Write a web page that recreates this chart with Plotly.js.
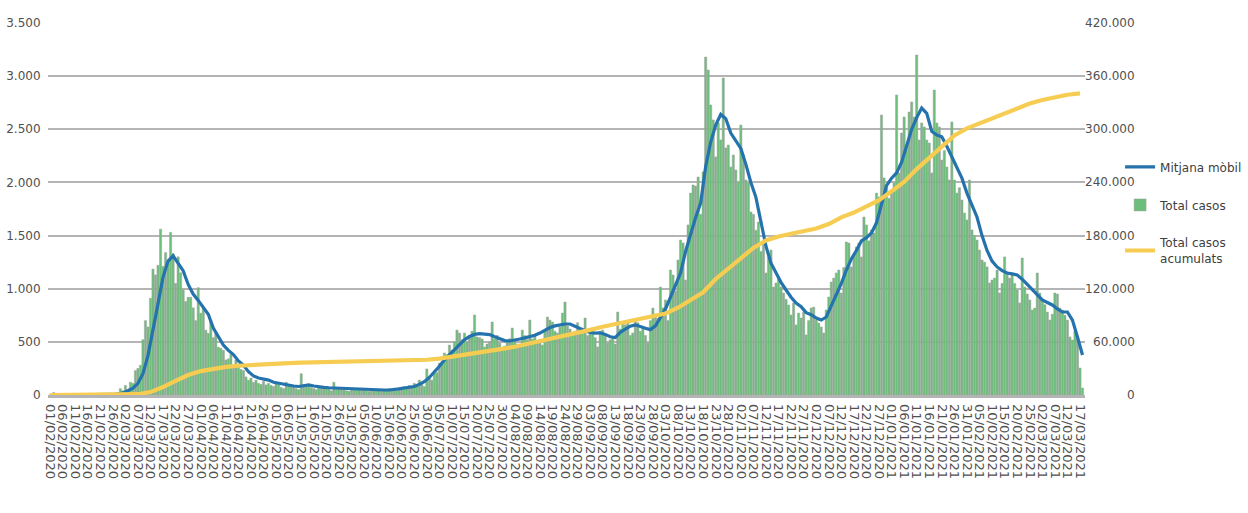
<!DOCTYPE html>
<html>
<head>
<meta charset="utf-8">
<script src="https://cdn.plot.ly/plotly-3.0.1.min.js"></script>
<style>
  html, body { margin: 0; padding: 0; background: #ffffff; }
  #chart { width: 1248px; height: 513px; }
</style>
</head>
<body>
<div id="chart"></div>
<script>
// ---- data ----
const startDate = '2020-02-01';

// Total casos: one value per day from 01/02/2020
const dailyCases = [
  // Feb 2020
  0,0,0,0,0,0,0,0,0,0, 0,0,0,0,0,0,0,0,0,0, 0,0,0,1,1,2,3,10,60,
  // Mar 2020
  40,90,50,120,110,230,250,280,520,700, 640,910,1185,1130,1220,1560,1210,1340,1270,1530,
  1330,1050,1300,1150,990,880,920,920,820,700, 1010,
  // Apr 2020
  770,820,610,580,700,540,580,450,440,420, 330,340,380,260,330,270,240,230,170,140,
  160,120,140,110,100,130,95,110,90,80,
  // May 2020
  110,100,70,60,120,90,80,75,60,50, 200,90,80,85,70,60,50,75,70,80,
  60,55,40,120,60,55,60,50,40,35, 60,
  // Jun 2020
  55,60,50,55,45,40,35,50,45,50, 40,35,50,45,60,55,50,40,70,75,
  80,60,90,70,110,90,140,120,80,245,
  // Jul 2020
  170,140,200,210,300,290,395,380,470,423, 500,611,583,520,583,499,560,600,753,546,
  540,527,452,480,500,687,527,560,489,420, 460,
  // Aug 2020
  500,530,630,517,480,470,611,560,520,705, 527,560,489,520,470,600,734,705,687,600,
  583,640,771,875,650,620,560,600,680,620, 580,
  // Sep 2020
  724,560,583,600,540,452,600,611,560,489, 520,540,480,781,620,677,660,677,560,583,
  705,680,600,640,560,489,700,818,760,720,
  // Oct 2020
  1016,820,894,700,1176,1129,980,1270,1458,1430, 1082,1600,1900,1976,1966,2051,1700,2100,3180,3058,
  2729,2588,2240,2560,2400,2983,2324,2352,2145,2258, 2117,
  // Nov 2020
  2000,2540,2258,2023,1995,1722,1700,1550,1628,1350, 1450,1148,1300,1364,1016,1054,1100,1016,960,900,
  847,753,866,659,771,724,780,565,700,818,
  // Dec 2020
  827,705,677,640,583,800,922,1063,1100,1148, 1176,960,1200,1440,1430,1205,1317,1393,1430,1299,
  1675,1600,1450,1553,1524,1900,1863,2635,2042,1948, 1850,
  // Jan 2021
  1900,1995,2823,2089,2465,2616,2350,2663,2757,2616, 3199,2399,2560,2522,2399,2371,2089,2870,2559,2522,
  2211,2300,2145,2023,2569,2023,1900,1950,1835,1712, 1647,
  // Feb 2021
  2023,1553,1500,1458,1364,1270,1250,1205,1054,1082, 1100,1176,960,1050,1299,1148,1100,1129,1050,988,
  866,1289,1016,950,894,800,818,1148,
  // Mar 2021
  960,894,850,780,705,760,960,950,818,800, 750,705,546,517,600,536,254,66
];

// Mitjana mòbil: read every 2 days, starting on day 1 (02/02/2020)
const maFirstDay = 1;
const maStepDays = 2;
const movingAvg = [
  10,0,0,0,0,0,0,0,0,0,
  0,3,5,10,20,40,65,110,200,370,
  600,860,1110,1260,1310,1240,1170,1040,950,890,
  830,760,630,550,470,420,380,320,280,220,
  180,160,150,140,120,110,100,95,85,80,
  90,95,85,75,72,68,66,62,58,56,
  56,56,56,52,48,47,47,47,50,58,
  66,72,80,100,125,165,215,270,330,380,
  430,480,520,550,570,578,576,568,548,527,
  512,508,515,527,538,548,562,583,610,635,
  650,662,668,668,650,625,605,588,583,585,
  570,548,540,590,620,648,660,640,628,615,
  650,730,810,920,1040,1148,1350,1520,1670,1806,
  2150,2380,2540,2640,2600,2465,2390,2320,2170,2000,
  1860,1640,1400,1240,1150,1060,988,920,866,830,
  775,755,724,705,734,840,950,1050,1176,1280,
  1360,1450,1480,1524,1620,1806,1970,2040,2089,2190,
  2340,2500,2610,2700,2650,2480,2445,2430,2340,2240,
  2145,2040,1900,1780,1675,1500,1360,1260,1205,1170,
  1148,1140,1129,1090,1040,988,940,894,870,847,
  810,781,781,705,546,376
];

// Total casos acumulats: read every 5 days, starting on day 0 (01/02/2020)
const cumFirstDay = 0;
const cumStepDays = 5;
const cumulative = [
  0,0,0,0,0,0,200,900,3300,9000,
  16000,22500,27000,30000,31800,33000,34000,34800,35500,36000,
  36500,36900,37200,37500,37800,38000,38200,38400,38600,39000,
  39800,41000,43000,45500,48000,49500,52000,54500,57500,60500,
  63500,66500,70000,73500,77000,80000,82500,85500,88500,92000,
  98500,107000,116000,131000,143000,155000,166000,174500,179000,182000,
  185000,188000,193000,200500,206000,212500,220000,230000,240500,255000,
  268000,280000,293000,301000,306500,312500,318500,324000,329000,333000,
  336500,339000,340500
];

const yLeftTicks = [0,500,1000,1500,2000,2500,3000,3500];
const yRightTicks = [0,60000,120000,180000,240000,300000,360000,420000];

const seriesNames = ['Mitjana mòbil', 'Total casos', 'Total casos<br>acumulats'];

// ---- helpers ----
const DAY_MS = 86400000;
const startMs = Date.parse(startDate + 'T00:00:00Z');
function dayToISO(n) { return new Date(startMs + n * DAY_MS).toISOString().slice(0, 10); }
function dayToStamp(n) { return new Date(startMs + n * DAY_MS).toISOString().slice(0, 16).replace('T', ' '); }
function fmtThousands(v) { return String(v).replace(/\B(?=(\d{3})+(?!\d))/g, '.'); }

const barDates = dailyCases.map((_, i) => dayToISO(i));
const maDates = movingAvg.map((_, i) => dayToISO(maFirstDay + i * maStepDays));
const cumDates = cumulative.map((_, i) => dayToISO(cumFirstDay + i * cumStepDays));

const FONT = 'DejaVu Sans, Verdana, sans-serif';
const tickFont = { family: FONT, size: 12, color: '#505050' };

const traces = [
  {
    type: 'scatter', mode: 'lines', name: seriesNames[0], legendgroup: 'a',
    x: maDates, y: movingAvg, yaxis: 'y',
    line: { color: '#2473ad', width: 3.2 }
  },
  {
    type: 'bar', name: seriesNames[1], legendgroup: 'b',
    x: barDates, y: dailyCases, yaxis: 'y',
    marker: { color: '#6cbf7a', line: { color: '#a3a3a3', width: 0.5 } }
  },
  {
    type: 'scatter', mode: 'lines', name: seriesNames[2], legendgroup: 'c',
    x: cumDates, y: cumulative, yaxis: 'y2',
    line: { color: '#f6cd52', width: 4.2 }
  }
];

const annotations = yRightTicks.map(v => ({
  xref: 'paper', yref: 'y2', x: 1.0501, y: v,
  xanchor: 'right', yanchor: 'middle', showarrow: false,
  text: fmtThousands(v), font: tickFont
}));

const layout = {
  width: 1248, height: 513,
  margin: { l: 48, r: 163, t: 23, b: 118, pad: 0, autoexpand: false },
  paper_bgcolor: '#ffffff', plot_bgcolor: '#ffffff',
  separators: ',.',
  bargap: 0.12,
  showlegend: true,
  legend: {
    xref: 'container', yref: 'container',
    x: 0.8975, xanchor: 'left', y: 0.585, yanchor: 'middle',
    traceorder: 'grouped', tracegroupgap: 19,
    font: { family: FONT, size: 12, color: '#404040' },
    bgcolor: 'rgba(0,0,0,0)'
  },
  xaxis: {
    type: 'date',
    range: [dayToStamp(-0.8), dayToStamp(412)],
    tick0: startDate, dtick: 5 * DAY_MS,
    tickformat: '%d/%m/%Y', tickangle: 90,
    tickfont: { family: FONT, size: 13, color: '#505050' },
    showgrid: false, zeroline: false,
    showline: true, linecolor: '#b4b4b4', linewidth: 2.5,
    ticks: 'outside', ticklen: 4, tickcolor: 'rgba(0,0,0,0)',
    automargin: false
  },
  yaxis: {
    range: [0, 3500], tickvals: yLeftTicks, tickformat: ',d',
    tickfont: tickFont,
    showgrid: true, gridcolor: '#b4b4b4', gridwidth: 2,
    zeroline: false, showline: false,
    ticks: 'outside', ticklen: 4, tickcolor: 'rgba(0,0,0,0)',
    automargin: false
  },
  yaxis2: {
    overlaying: 'y', side: 'right', range: [0, 420000],
    tickvals: yRightTicks, showticklabels: false,
    showgrid: false, zeroline: false, showline: false,
    automargin: false
  },
  annotations: annotations
};

Plotly.newPlot('chart', traces, layout, { staticPlot: true, displayModeBar: false });
</script>
</body>
</html>
